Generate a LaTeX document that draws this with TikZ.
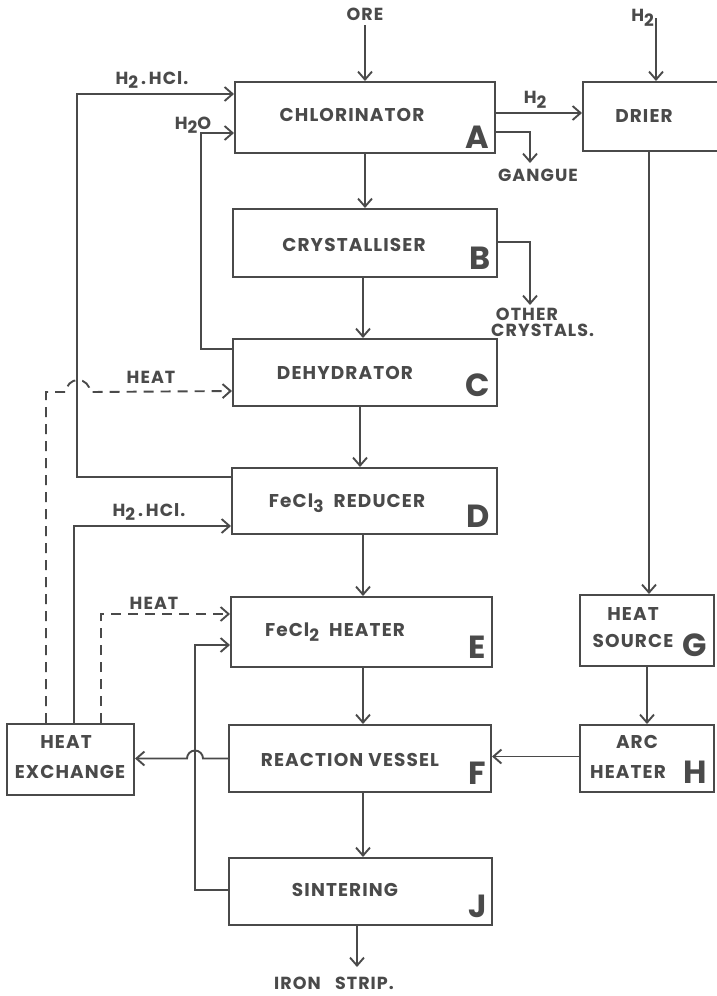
\documentclass[tikz,border=0pt]{standalone}
\usepackage{fontspec}
\setmainfont{Poppins}[BoldFont=* Bold]
\newfontfamily\wide{Poppins}[BoldFont=* Bold, LetterSpace=6]
\usetikzlibrary{arrows.meta}
\definecolor{ink}{HTML}{4A4A4A}
\newcommand\sbs[1]{\raisebox{-0.45ex}{\fontsize{17}{17}\selectfont #1}}
\tikzset{
  box/.style={draw=ink, line width=2pt, inner sep=0pt},
  txt/.style={text=ink, font=\wide\fontsize{18.5}{19}\selectfont\bfseries, inner sep=0pt},
  lbl/.style={text=ink, font=\wide\fontsize{17.5}{16}\selectfont\bfseries, inner sep=0pt},
  big/.style={text=ink, font=\fontsize{32}{32}\selectfont\bfseries, inner sep=0pt},
  flow/.style={draw=ink, line width=1.9pt, -{Straight Barb[length=8pt,width=14pt,line width=1.9pt]}},
  dflow/.style={flow, dash pattern=on 10pt off 7pt},
}
\begin{document}
\begin{tikzpicture}[x=1pt,y=-1pt]
\useasboundingbox[fill=white] (0,0) rectangle (717,996);
% boxes
\node[box, minimum width=260pt, minimum height=71pt] (A) at (365,117.5) {};
\node[box, minimum width=147pt, minimum height=69pt] (DR) at (656.5,116.5) {};
\node[box, minimum width=264pt, minimum height=68pt] (B) at (365,243) {};
\node[box, minimum width=264pt, minimum height=67pt] (C) at (365,372.5) {};
\node[box, minimum width=265pt, minimum height=66pt] (D) at (364.5,501) {};
\node[box, minimum width=261pt, minimum height=70pt] (E) at (361.5,632) {};
\node[box, minimum width=262pt, minimum height=67pt] (F) at (360,758.5) {};
\node[box, minimum width=263pt, minimum height=67pt] (J) at (360.5,891.5) {};
\node[box, minimum width=134pt, minimum height=71pt] (G) at (647,630.5) {};
\node[box, minimum width=134pt, minimum height=67pt] (H) at (647,758.5) {};
\node[box, minimum width=127pt, minimum height=71pt] (HX) at (70.5,759.5) {};
% box texts
\node[txt] (tA) at (352,115) {CHLORINATOR};
\node[big] (lA) at (477,137) {A};
\node[txt] (tDR) at (644,116) {DRIER};
\node[txt] (tB) at (354,245) {CRYSTALLISER};
\node[big] (lB) at (480,258) {B};
\node[txt] (tC) at (345,373) {DEHYDRATOR};
\node[big] (lC) at (478,385) {C};
\node[txt] (tD) at (347,503) {FeCl\sbs{3}\ \ REDUCER};
\node[big] (lD) at (478,516) {D};
\node[txt] (tE) at (335,632) {FeCl\sbs{2}\ \ HEATER};
\node[big] (lE) at (477,647) {E};
\node[txt] (tF) at (350,760) {REACTION VESSEL};
\node[big] (lF) at (477,773) {F};
\node[txt] (tJ) at (345,890) {SINTERING};
\node[big] (lJ) at (478,906) {J};
\node[txt] (tG1) at (633,614) {HEAT};
\node[txt] (tG2) at (633,641) {SOURCE};
\node[big] (lG) at (695,645) {G};
\node[txt] (tH1) at (637,742) {ARC};
\node[txt] (tH2) at (628,772) {HEATER};
\node[big] (lH) at (695,772) {H};
\node[txt] (tX1) at (66,742) {HEAT};
\node[txt] (tX2) at (70,772) {EXCHANGE};
% free labels
\node[lbl] (ore) at (365,14) {ORE};
\node[lbl, anchor=east] (h2in) at (654,18) {H\sbs{2}};
\node[lbl] (h2a) at (535,100) {H\sbs{2}};
\node[lbl] (gangue) at (538,175) {GANGUE};
\node[lbl, anchor=west, align=left] (other) at (491,322) {\ OTHER\\CRYSTALS.};
\node[lbl] (h2o) at (193,125) {H\sbs{2}O};
\node[lbl] (hcl1) at (152,80) {H\sbs{2}\,.\,HCl.};
\node[lbl] (heat1) at (151,377) {HEAT};
\node[lbl] (hcl2) at (149,512) {H\sbs{2}\,.\,HCl.};
\node[lbl] (heat2) at (154,603) {HEAT};
\node[lbl] (iron) at (334,983) {IRON\ \ \ STRIP.};
% helper coordinates for free ends
\coordinate (oreS) at (365,25);
\coordinate (h2S) at (656,18);
\coordinate (gg) at (530,163);
\coordinate (oc) at (530,305);
\coordinate (ironN) at (357,967);
% main flow
\draw[flow] (oreS) -- (A.north);
\draw[flow] (h2S) -- (h2S |- DR.north);
\draw[flow] ([yshift=4.5pt]A.east) -- ([yshift=4.5pt]A.east -| DR.west);
\draw[flow] ([yshift=-14.5pt]A.east) -| (gg);
\draw[flow] (A.south) -- (B.north);
\draw[flow] ([yshift=1pt]B.east) -| (oc);
\draw[flow] ([xshift=-2pt]B.south) -- ([xshift=-2pt]B.north |- C.north);
\draw[flow] ([xshift=-5pt]C.south) -- ([xshift=-5pt]C.south |- D.north);
\draw[flow] ([xshift=-1.5pt]D.south) -- ([xshift=-1.5pt]D.south |- E.north);
\draw[flow] ([xshift=1.5pt]E.south) -- ([xshift=1.5pt]E.south |- F.north);
\draw[flow] ([xshift=3pt]F.south) -- ([xshift=3pt]F.south |- J.north);
\draw[flow] ([xshift=-3.5pt]J.south) -- (ironN);
% recycle lines
\draw[flow] ([yshift=23.5pt]C.west) -- ++(-31,0) |- ([yshift=-15.5pt]A.west);
\draw[flow] ([yshift=24pt]D.west) -- ++(-154,0) |- ([yshift=23.5pt]A.west);
\draw[flow] ([xshift=3.5pt]HX.north) |- ([yshift=-25pt]D.west);
\draw[dflow] ([xshift=30.5pt]HX.north) |- ([yshift=18pt]E.west);
\draw[dflow] ([xshift=-24.5pt]HX.north) -- (46,392) -- (66,392)
   arc[start angle=180, end angle=0, radius=12pt] -- ([yshift=-18.5pt]C.west);
\draw[flow] ([yshift=1.5pt]J.west) -- ++(-33,0) |- ([yshift=-13pt]E.west);
\draw[flow] (F.west) -- ([xshift=-25pt]F.west)
   arc[start angle=0, end angle=180, radius=8pt] -- (HX.east |- F.west);
% right column
\draw[flow] ([xshift=2pt]G.north |- DR.south) -- ([xshift=2pt]G.north);
\draw[flow] (G.south) -- (H.north);
\draw[flow] ([yshift=2pt]H.west) -- ([yshift=2pt]H.west -| F.east);
\end{tikzpicture}
\end{document}
